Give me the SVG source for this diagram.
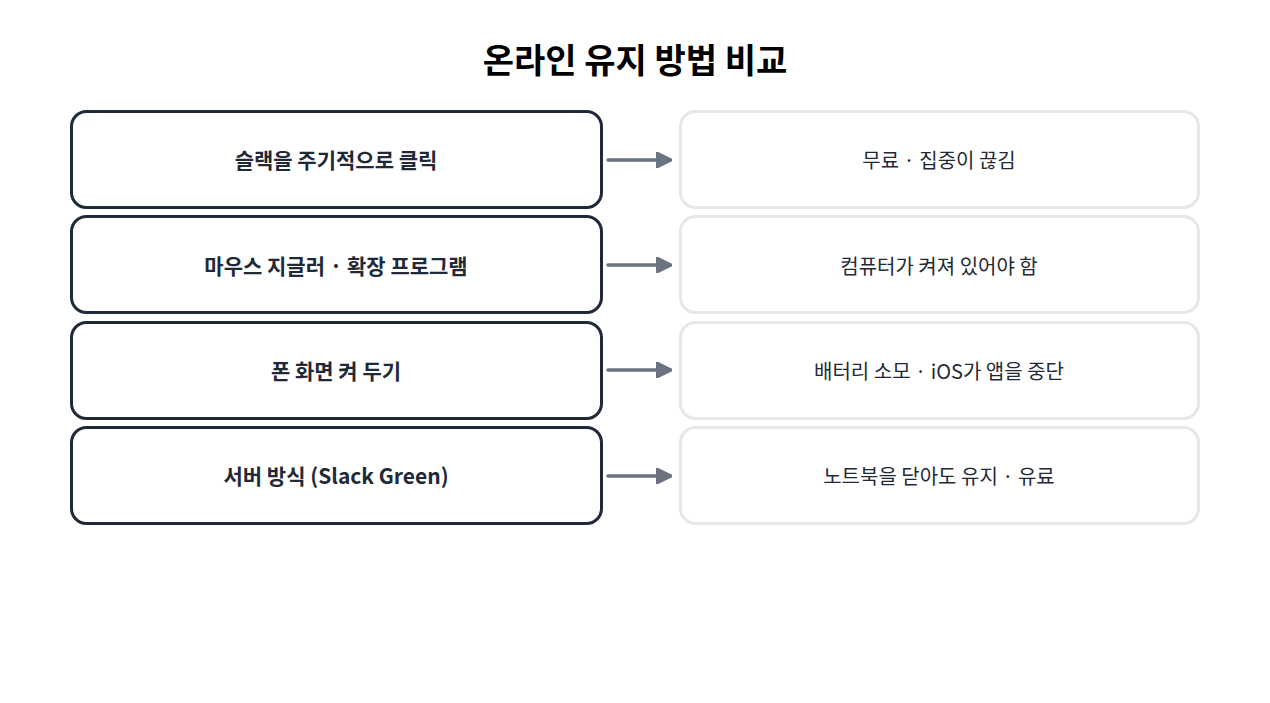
<svg xmlns="http://www.w3.org/2000/svg" width="1270" height="703" viewBox="0 0 1270 703">
<style>
.t{font-family:"Noto Sans CJK KR","Noto Sans",sans-serif;fill:#1f2937;text-anchor:middle;dominant-baseline:central}
.l{fill:#fff;stroke:#1f2937;stroke-width:3}
.r{fill:#fff;stroke:#e5e7eb;stroke-width:3}
.a{stroke:#6b7280;stroke-width:3.5;fill:none;stroke-linecap:round}
</style>
<defs><marker id="m" markerWidth="6" markerHeight="6" refX="5" refY="3" orient="auto" markerUnits="userSpaceOnUse" viewBox="0 0 6 6"><path d="M0,0L6,3L0,6Z" fill="#6b7280"/></marker>
<marker id="h" viewBox="0 0 10 10" refX="9" refY="5" markerWidth="16" markerHeight="16" markerUnits="userSpaceOnUse" orient="auto"><path d="M0,0L10,5L0,10Z" fill="#6b7280" stroke="#6b7280" stroke-linejoin="round" stroke-width="1.5"/></marker></defs>
<rect width="1270" height="703" fill="#fff"/>
<text class="t" x="635" y="58" font-size="34" font-weight="700" fill="#000" style="fill:#000">온라인 유지 방법 비교</text>
<g id="n1"><rect class="l" x="71.5" y="111.5" width="530" height="96" rx="15"/><text class="t" x="336" y="159" font-size="21" font-weight="700">슬랙을 주기적으로 클릭</text></g>
<g id="n2"><rect class="l" x="71.5" y="216.5" width="530" height="96" rx="15"/><text class="t" x="336" y="265" font-size="21" font-weight="700">마우스 지글러 · 확장 프로그램</text></g>
<g id="n3"><rect class="l" x="71.5" y="322.5" width="530" height="96" rx="15"/><text class="t" x="336" y="370" font-size="21" font-weight="700">폰 화면 켜 두기</text></g>
<g id="n4"><rect class="l" x="71.5" y="427.5" width="530" height="96" rx="15"/><text class="t" x="336" y="475" font-size="21" font-weight="700">서버 방식 (Slack Green)</text></g>
<g id="r1"><rect class="r" x="680.5" y="111.5" width="518" height="96" rx="15"/><text class="t" x="939" y="159" font-size="20">무료 · 집중이 끊김</text></g>
<g id="r2"><rect class="r" x="680.5" y="216.5" width="518" height="96" rx="15"/><text class="t" x="939" y="265" font-size="20">컴퓨터가 켜져 있어야 함</text></g>
<g id="r3"><rect class="r" x="680.5" y="322.5" width="518" height="96" rx="15"/><text class="t" x="939" y="370" font-size="20">배터리 소모 · iOS가 앱을 중단</text></g>
<g id="r4"><rect class="r" x="680.5" y="427.5" width="518" height="96" rx="15"/><text class="t" x="939" y="475" font-size="20">노트북을 닫아도 유지 · 유료</text></g>
<g id="edges">
<path class="a" d="M608,160H670" marker-end="url(#h)"/>
<path class="a" d="M608,265H670" marker-end="url(#h)"/>
<path class="a" d="M608,370H670" marker-end="url(#h)"/>
<path class="a" d="M608,476H670" marker-end="url(#h)"/>
</g>
</svg>
